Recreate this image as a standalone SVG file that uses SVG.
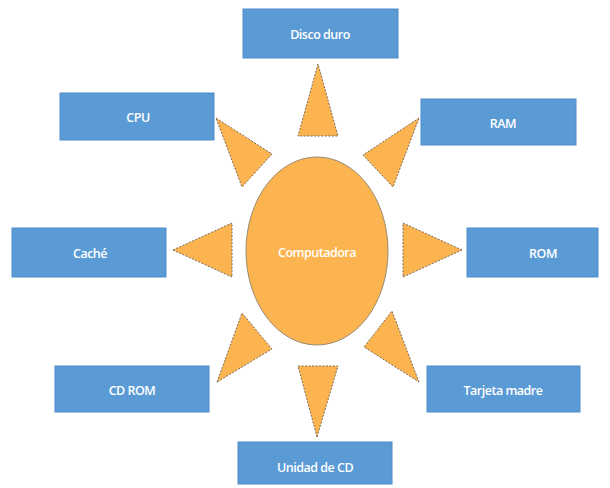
<svg xmlns="http://www.w3.org/2000/svg" width="610" height="488" viewBox="0 0 610 488">
<style>
.box{fill:#5B9BD5;stroke:#4F8CC9;stroke-width:1}
.lbl{font-family:"Open Sans","Liberation Sans",sans-serif;font-size:12.5px;font-weight:600;fill:#FFFFFF;text-anchor:middle;dominant-baseline:central;letter-spacing:-0.5px}
.ray{fill:#FBB44F;stroke:#7A6A5A;stroke-width:1;stroke-dasharray:2 1.5}
.sun{fill:#FBB44F;stroke:#9A8A70;stroke-width:1}
</style>
<rect width="610" height="488" fill="#FFFFFF"/>
<g id="connectors">
<polygon class="ray" points="318,64 298,136 338,136"/>
<polygon class="ray" points="317,437 298,366 338,366"/>
<polygon class="ray" points="173,250 232,223 232,277"/>
<polygon class="ray" points="462,250 403,223 403,277"/>
<polygon class="ray" points="216,118 272,154 242,187"/>
<polygon class="ray" points="419,118 363,155 393,187"/>
<polygon class="ray" points="217,382 242,313 272,349"/>
<polygon class="ray" points="419,382 392,311 364,347"/>
</g>
<g id="computadora">
<ellipse class="sun" cx="317" cy="251" rx="71" ry="94"/>
<text class="lbl" x="317" y="252">Computadora</text>
</g>
<g id="disco-duro">
<rect class="box" x="243" y="9" width="155" height="49"/>
<text class="lbl" x="320" y="34">Disco duro</text>
</g>
<g id="cpu">
<rect class="box" x="60" y="93" width="154" height="47"/>
<text class="lbl" x="138" y="117">CPU</text>
</g>
<g id="ram">
<rect class="box" x="421" y="99" width="155" height="46"/>
<text class="lbl" x="503" y="123">RAM</text>
</g>
<g id="cache">
<rect class="box" x="12" y="228" width="154" height="49"/>
<text class="lbl" x="90" y="253">Caché</text>
</g>
<g id="rom">
<rect class="box" x="467" y="228" width="131" height="49"/>
<text class="lbl" x="543" y="253">ROM</text>
</g>
<g id="cd-rom">
<rect class="box" x="55" y="366" width="154" height="46"/>
<text class="lbl" x="132" y="390">CD  ROM</text>
</g>
<g id="tarjeta-madre">
<rect class="box" x="427" y="366" width="153" height="46"/>
<text class="lbl" x="503" y="390">Tarjeta madre</text>
</g>
<g id="unidad-cd">
<rect class="box" x="238" y="442" width="154" height="42"/>
<text class="lbl" x="315" y="467">Unidad de CD</text>
</g>
</svg>
